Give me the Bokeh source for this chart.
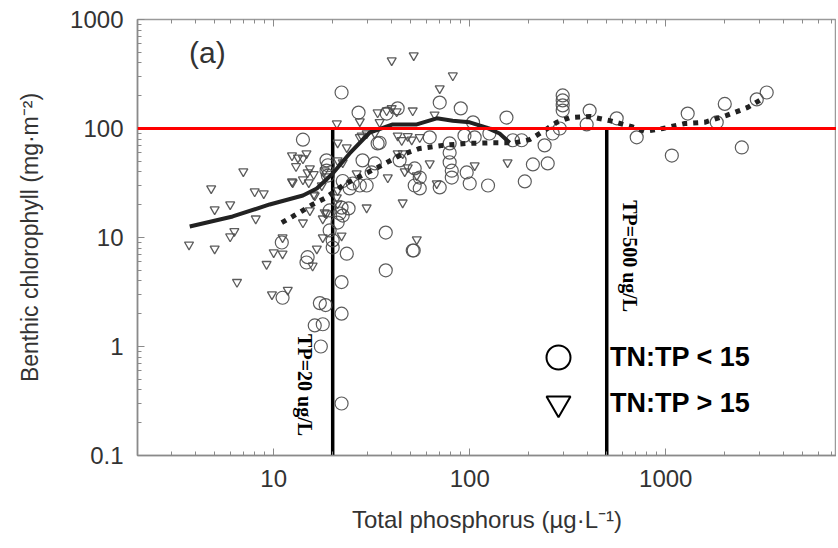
import math
from bokeh.plotting import figure
from bokeh.models import (FixedTicker, LogAxis, Span, Label, Legend, LegendItem, Range1d)
from bokeh.embed import file_html
from bokeh.resources import INLINE

# ---------------- data ----------------
# TN:TP < 15  (open circles)
circle_tp = [14.1, 18.6, 18.9, 18.6, 19.3, 21.7, 21.2, 11.0, 14.9, 14.7, 20.0, 23.6, 22.2, 11.1,
             22.5, 24.1, 22.5, 20.0, 37.3, 51.8, 37.3, 17.2, 18.4, 16.2, 17.8, 17.4, 22.2, 22.2,
             22.2, 27.1, 42.9, 37.7, 70.3, 90.0, 154, 104, 33.9, 28.4, 52.4, 55.6, 55.6, 52.4,
             79.0, 79.0, 79.0, 81.0, 81.0, 96.5, 100, 124, 70.3, 25.3, 27.5, 29.8, 24.4, 22.2,
             18.9, 191, 210, 250, 241, 265, 288, 298, 298, 298, 298, 409, 395, 562, 711, 1074,
             1294, 1820, 2000, 2443, 2913, 3273, 51.2, 62.5, 94.0, 106, 166, 184, 126, 34.7,
             32.8, 43.9, 31.6, 19.3]
circle_chl = [79, 51, 46, 41, 17.7, 16.6, 13.7, 9.0, 6.6, 5.9, 8.1, 7.1, 3.9, 2.8,
              33, 18.5, 15.9, 9.4, 11.1, 7.6, 5.0, 2.5, 2.4, 1.56, 1.6, 1.0, 2.0, 0.30,
              214, 140, 153, 137, 173, 153, 126, 114, 73, 51, 43, 35.5, 28.2, 30,
              73, 60, 49, 41, 35.5, 39.5, 31.3, 30, 28.8, 31.3, 30, 30, 28.2, 18.8,
              37, 32.7, 46.8, 47.8, 70, 90, 100, 201, 181, 163, 146, 146, 109, 124, 83, 56.5,
              137, 114, 168, 67, 185, 214, 7.6, 83, 86, 83, 78, 78, 90, 74,
              47.8, 51, 39.5, 11.6]

# TN:TP > 15  (open inverted triangles)
triangle_tp = [21.0, 7.0, 4.8, 5.0, 6.0, 8.0, 8.9, 8.1, 3.7, 5.0, 6.0, 6.3, 12.4, 13.3, 14.7,
               14.1, 13.0, 14.9, 16.0, 12.4, 14.1, 15.1, 16.0, 14.1, 15.3, 17.8, 17.8, 16.6,
               10.0, 11.1, 9.2, 6.5, 9.8, 11.8, 15.8, 21.2, 21.2, 18.6, 11.1, 29.8, 45.5, 22.2,
               53.7, 40.0, 51.8, 82.0, 70.3, 33.9, 37.7, 40.0, 42.4, 51.2, 66.2, 27.5, 27.5,
               23.6, 42.9, 48.3, 55.6, 42.9, 48.3, 46.6, 38.2, 53.7, 62.5, 106, 156, 67.9, 26.5,
               34.7, 22.5, 28.1, 29.8, 15.3, 12.5, 18.2, 18.6, 16.2, 17.6, 21.0, 21.2, 18.2,
               45.0, 50.6, 45.5, 32.8, 21.2]
triangle_chl = [111, 40.4, 28.2, 18.1, 20.1, 26.4, 25.4, 14.9, 8.6, 7.9, 10.2, 11.4, 56.5, 54, 59,
                53, 45, 39.5, 38, 32.7, 34, 32, 24.8, 13.7, 17.7, 14.9, 10, 7.9,
                7.3, 7.1, 5.7, 3.9, 3.0, 3.3, 5.5, 74, 51, 16.6, 10, 18.8, 20.9, 10.4,
                9.6, 421, 468, 306, 233, 140, 146, 153, 143, 146, 134, 116, 83,
                67, 86, 85, 83, 59, 43.9, 40.4, 35.5, 37.1, 47.8, 45.8, 48.8, 31.3, 38.7,
                114, 48.8, 86, 90, 43, 32, 41.2, 36.3, 24.3, 30, 23.3, 20.5, 17,
                78, 79, 59, 90, 27]

# smoothed curve for TN:TP > 15 (solid)
smooth_high_tp = [3.73, 6.18, 9.54, 14.1, 16.6, 20.0, 24.4, 30.9, 40.5, 53.7, 67.9, 81.9, 100,
                  122, 142, 160]
smooth_high_chl = [12.6, 15.6, 20.1, 24.3, 28.2, 38.7, 59, 91.9, 109, 109, 124, 118, 114,
                   102, 90, 74]

# smoothed curve for TN:TP < 15 (dotted)
smooth_low_tp = [11.0, 12.5, 14.1, 15.8, 18.2, 22.5, 27.5, 33.9, 43.9, 55.6, 72.8, 96.5, 131,
                 170, 202, 241, 278, 324, 409, 518, 671, 782, 966, 1250, 1581, 2047, 2620, 3198]
smooth_low_chl = [13.7, 15.6, 17.7, 20.1, 22.8, 30, 36.3, 43.9, 56.5, 65.6, 70, 73, 74,
                  74, 79, 96, 114, 126, 129, 118, 104, 94, 100, 111, 114, 132, 156, 193]

tp_thresholds = [20, 500]
tp_threshold_labels = ["TP=20 ug/L", "TP=500 ug/L"]
chl_threshold = 100
chl_floor = 0.1

x_major_ticks = [10, 100, 1000]
x_tick_labels = ["10", "100", "1000"]
y_major_ticks = [0.1, 1, 10, 100, 1000]
y_tick_labels = ["0.1", "1", "10", "100", "1000"]
legend_labels = ["TN:TP < 15", "TN:TP > 15"]
panel_label = "(a)"
x_title = "Total phosphorus (\u00b5g\u00b7L\u207b\u00b9)"
y_title = "Benthic chlorophyll (mg\u00b7m\u207b\u00b2)"

# ---------------- figure ----------------
x_minor = [m * 10 ** e for e in range(0, 4) for m in range(2, 10)]
y_minor = [m * 10 ** e for e in range(-1, 3) for m in range(2, 10)]

p = figure(width=836, height=545, x_axis_type="log", y_axis_type="log",
           x_range=Range1d(2.02, 7430), y_range=Range1d(0.1, 1000),
           output_backend="svg", toolbar_location=None,
           min_border_left=137, min_border_right=0, min_border_top=19, min_border_bottom=90)
p.background_fill_color = "white"
p.border_fill_color = "white"
p.outline_line_color = "#9a9a9a"
p.outline_line_width = 1.5
p.xgrid.visible = False
p.ygrid.visible = False

p.xaxis.ticker = FixedTicker(ticks=x_major_ticks, minor_ticks=x_minor)
p.yaxis.ticker = FixedTicker(ticks=y_major_ticks, minor_ticks=y_minor)
p.xaxis.major_label_overrides = {t: s for t, s in zip(x_major_ticks, x_tick_labels)}
p.yaxis.major_label_overrides = {t: s for t, s in zip(y_major_ticks, y_tick_labels)}

for ax in (p.xaxis[0], p.yaxis[0]):
    ax.axis_line_color = "#8a8a8a"
    ax.axis_line_width = 1.5
    ax.major_tick_line_color = "#8a8a8a"
    ax.minor_tick_line_color = "#8a8a8a"
    ax.major_tick_in = 7
    ax.major_tick_out = 0
    ax.minor_tick_in = 4
    ax.minor_tick_out = 0
    ax.major_label_text_font = "Liberation Sans"
    ax.major_label_text_font_size = "24px"
    ax.major_label_text_color = "#333333"
    ax.axis_label_text_font = "Liberation Sans"
    ax.axis_label_text_font_size = "23px"
    ax.axis_label_text_font_style = "normal"
    ax.axis_label_text_color = "#333333"

p.xaxis.axis_label_text_font_size = "24px"
p.xaxis.axis_label = x_title
p.yaxis.axis_label = y_title
p.xaxis.major_label_standoff = 14
p.yaxis.major_label_standoff = 14
p.xaxis.axis_label_standoff = 16
p.yaxis.axis_label_standoff = 24

top_axis = LogAxis(ticker=FixedTicker(ticks=x_major_ticks, minor_ticks=x_minor),
                   major_label_overrides={t: "" for t in x_major_ticks},
                   axis_line_color=None, major_tick_line_color="#8a8a8a",
                   minor_tick_line_color="#8a8a8a", major_tick_in=7, major_tick_out=0,
                   minor_tick_in=4, minor_tick_out=0, major_label_standoff=0,
                   major_label_text_font_size="1px")
p.add_layout(top_axis, "above")

# threshold lines
p.add_layout(Span(location=chl_threshold, dimension="width", line_color="#ff0000", line_width=3))
p.segment(x0=tp_thresholds, y0=[chl_floor] * 2, x1=tp_thresholds, y1=[chl_threshold] * 2,
          line_color="black", line_width=3.5)

# points
rc = p.scatter(circle_tp, circle_chl, marker="circle", size=13, fill_color=None,
               line_color="#4a4a4a", line_width=1.2, line_alpha=0.9)
rt = p.scatter(triangle_tp, triangle_chl, marker="inverted_triangle", size=9, fill_color=None,
               line_color="#4a4a4a", line_width=1.3, line_alpha=0.9)

# smooth curves
p.line(smooth_high_tp, smooth_high_chl, line_color="#222222", line_width=4)
p.line(smooth_low_tp, smooth_low_chl, line_color="#222222", line_width=5, line_dash="5 6")

# texts
p.add_layout(Label(x=tp_thresholds[0], y=1.3, text=tp_threshold_labels[0], angle=-math.pi / 2,
                   x_offset=-28, text_align="left", text_baseline="middle",
                   text_font="Liberation Serif", text_font_style="bold", text_font_size="20px",
                   text_color="black"))
p.add_layout(Label(x=tp_thresholds[1], y=22, text=tp_threshold_labels[1], angle=-math.pi / 2,
                   x_offset=23, text_align="left", text_baseline="middle",
                   text_font="Liberation Serif", text_font_style="bold", text_font_size="20px",
                   text_color="black"))
p.add_layout(Label(x=3.7, y=500, text=panel_label, text_align="left", text_baseline="middle",
                   text_font="Liberation Sans", text_font_size="30px", text_color="#333333"))

# legend (big open markers), one entry per box so the rows sit close together
nan = float("nan")
lc = p.scatter([nan], [nan], marker="circle", size=24, fill_color=None, line_color="black",
               line_width=2)
lt = p.scatter([nan], [nan], marker="inverted_triangle", size=24, fill_color=None,
               line_color="black", line_width=2)
for rend, lab, loc in ((lc, legend_labels[0], (391, 68)), (lt, legend_labels[1], (391, 22))):
    p.add_layout(Legend(items=[LegendItem(label=lab, renderers=[rend])],
                        location=loc, orientation="vertical",
                        glyph_width=60, glyph_height=60, spacing=0, label_standoff=22,
                        label_text_font="Liberation Sans", label_text_font_style="bold",
                        label_text_font_size="27px", label_text_color="black",
                        background_fill_alpha=0, border_line_color=None, padding=0, margin=0))

open("out.html", "w").write(file_html(p, INLINE))
